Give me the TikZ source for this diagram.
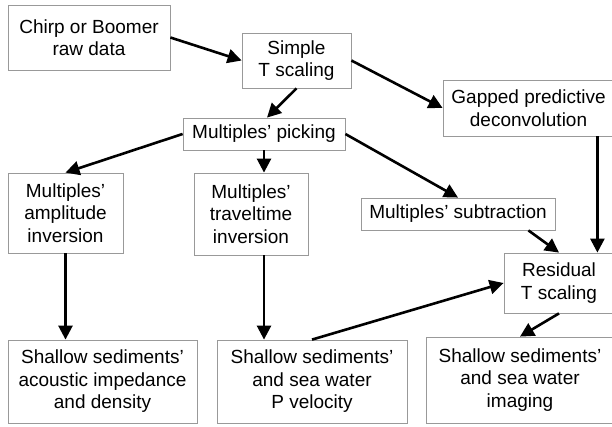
\documentclass[tikz,border=0pt]{standalone}
\usepackage{fontspec}
\setmainfont{Liberation Sans}
\usetikzlibrary{arrows.meta}

\tikzset{
  proc/.style={draw=black!40, line width=0.8pt, align=center, inner sep=2pt,
    font=\fontsize{19}{22.5}\selectfont},
  flow/.style={-{Triangle[length=14pt,width=14pt]}, line width=2.6pt},
}

\begin{document}
\begin{tikzpicture}[x=1pt,y=-1pt]
  \useasboundingbox (0,0) rectangle (612,427);

  % Define nodes
  \node[proc, minimum width=162pt, minimum height=65pt] (raw) at (89,37.5) {Chirp or Boomer\\raw data};
  \node[proc, minimum width=109pt, minimum height=55pt] (simple) at (296.5,60.5) {Simple\\T scaling};
  \node[proc, minimum width=171pt, minimum height=56pt] (gapped) at (528.5,108) {Gapped predictive\\deconvolution};
  \node[proc, minimum width=162pt, minimum height=32pt] (picking) at (264,134) {Multiples' picking};
  \node[proc, minimum width=115pt, minimum height=80pt] (amp) at (65.5,213) {Multiples'\\amplitude\\inversion};
  \node[proc, minimum width=114pt, minimum height=82pt] (travel) at (251,214) {Multiples'\\traveltime\\inversion};
  \node[proc, minimum width=194pt, minimum height=32pt] (subtr) at (458,214) {Multiples' subtraction};
  \node[proc, minimum width=110pt, minimum height=60pt] (resid) at (559,283) {Residual\\T scaling};
  \node[proc, minimum width=189pt, minimum height=83pt] (dens) at (102.5,381.5) {Shallow sediments'\\acoustic impedance\\and density};
  \node[proc, minimum width=190pt, minimum height=83pt] (vel) at (312,381.5) {Shallow sediments'\\and sea water\\P velocity};
  \node[proc, minimum width=188pt, minimum height=86pt] (imag) at (520,380) {Shallow sediments'\\and sea water\\imaging};

  % Connect the nodes
  \draw[flow] (raw.east) -- (simple.west);
  \draw[flow] (simple.east) -- (gapped.west);
  \draw[flow] (simple.south) -- ([xshift=3pt]picking.north);
  \draw[flow] (picking.west) -- (amp.north);
  \draw[flow] (picking.south) -- (picking.south |- travel.north);
  \draw[flow] (picking.east) -- (subtr.north);
  \draw[flow] ([xshift=-17pt]gapped.south east) -- ([xshift=-17pt]resid.north east);
  \draw[flow] ([xshift=-27pt]subtr.south east) -- (resid.north);
  \draw[flow] (amp.south) -- (amp.south |- dens.north);
  \draw[flow] (travel.south -| picking.south) -- (picking.south |- vel.north);
  \draw[flow] (vel.north) -- (resid.west);
  \draw[flow] (resid.south) -- (imag.north);
\end{tikzpicture}
\end{document}
